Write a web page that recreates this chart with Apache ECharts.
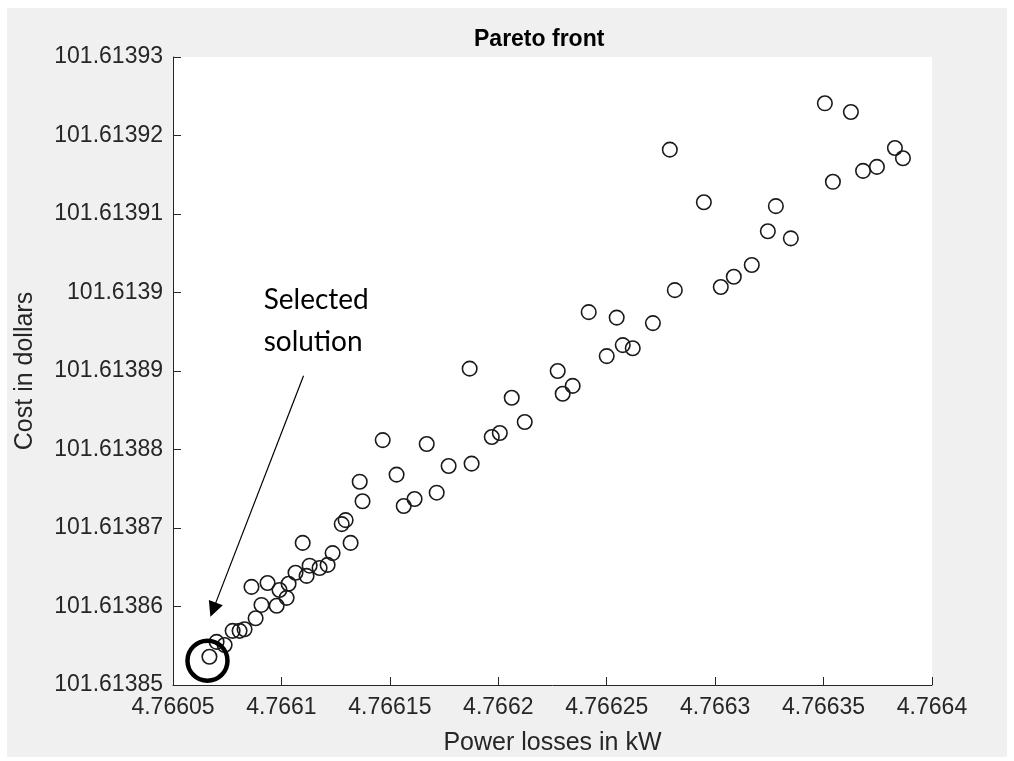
<!DOCTYPE html>
<html>
<head>
<meta charset="utf-8">
<script src="https://cdn.jsdelivr.net/npm/echarts@6.0.0/dist/echarts.min.js"></script>
<style>
  html, body { margin: 0; padding: 0; background: #fff; }
  #frame { position: absolute; left: 7px; top: 8px; width: 1000px; height: 749px; background: #f0f0f0; }
  #chart { position: absolute; left: 0; top: 0; width: 1014px; height: 761px; }
</style>
</head>
<body>
<div id="frame"></div>
<div id="chart"></div>
<script>
// tick values (axes are built from these)
const xTicks = [4.76605, 4.7661, 4.76615, 4.7662, 4.76625, 4.7663, 4.76635, 4.7664];
const yTicks = [101.61385, 101.61386, 101.61387, 101.61388, 101.61389, 101.6139, 101.61391, 101.61392, 101.61393];

// pareto front points
const powerLoss = [
  4.7660668, 4.7660701, 4.7660738, 4.7660775, 4.7660807, 4.7660830, 4.7660881, 4.7660908,
  4.7660862, 4.7660936, 4.7660978, 4.7660991, 4.7661024, 4.7661033, 4.7661065, 4.7661116,
  4.7661130, 4.7661176, 4.7661213, 4.7661236, 4.7661098, 4.7661319, 4.7661278, 4.7661296,
  4.7661361, 4.7661374, 4.7661467, 4.7661531, 4.7661564, 4.7661614, 4.7661670, 4.7661716,
  4.7661771, 4.7661868, 4.7661877, 4.7661970, 4.7662007, 4.7662062, 4.7662122, 4.7662274,
  4.7662297, 4.7662343, 4.7662417, 4.7662500, 4.7662546, 4.7662574, 4.7662620, 4.7662713,
  4.7662791, 4.7662814, 4.7662948, 4.7663026, 4.7663086, 4.7663169, 4.7663243, 4.7663280,
  4.7663349, 4.7663506, 4.7663626, 4.7663543, 4.7663682, 4.7663746, 4.7663829, 4.7663866
];
const cost = [
  101.6138536, 101.6138555, 101.6138551, 101.6138569, 101.6138569, 101.6138571, 101.6138585, 101.6138602,
  101.6138625, 101.6138630, 101.6138601, 101.6138621, 101.6138611, 101.6138629, 101.6138643, 101.6138639,
  101.6138652, 101.6138649, 101.6138653, 101.6138668, 101.6138681, 101.6138681, 101.6138705, 101.6138710,
  101.6138759, 101.6138734, 101.6138812, 101.6138768, 101.6138728, 101.6138737, 101.6138807, 101.6138745,
  101.6138779, 101.6138903, 101.6138782, 101.6138816, 101.6138821, 101.6138866, 101.6138835, 101.6138900,
  101.6138871, 101.6138881, 101.6138975, 101.6138919, 101.6138968, 101.6138933, 101.6138929, 101.6138961,
  101.6139182, 101.6139003, 101.6139115, 101.6139007, 101.6139020, 101.6139035, 101.6139078, 101.6139110,
  101.6139069, 101.6139241, 101.6139230, 101.6139141, 101.6139155, 101.6139160, 101.6139184, 101.6139171
];

// annotation: ring round the chosen point, arrow and its caption
const selectedPoint = [4.7660659, 101.6138531];
const arrowFrom = [4.7661102, 101.6138894];
const arrowTo = [4.7660685, 101.6138596];
const captionAt = [4.7660918, 101.6138964];
const captionText = 'Selected\nsolution';

const axisColor = '#262626';
const tickFont = { fontFamily: 'Liberation Sans', fontSize: 23, color: axisColor };

const chart = echarts.init(document.getElementById('chart'), null, { renderer: 'canvas' });

chart.setOption({
  animation: false,
  backgroundColor: 'transparent',
  title: {
    text: 'Pareto front',
    left: 474,
    top: 28,
    padding: 0,
    textStyle: { fontFamily: 'Liberation Sans', fontWeight: 'bold', fontSize: 23, color: '#000' }
  },
  grid: {
    left: 173, top: 57, width: 759, height: 628,
    show: true, backgroundColor: '#fff', borderWidth: 0,
    containLabel: false, outerBoundsMode: 'none'
  },
  xAxis: {
    type: 'value',
    min: xTicks[0],
    max: xTicks[xTicks.length - 1],
    interval: +(xTicks[1] - xTicks[0]).toFixed(8),
    name: 'Power losses in kW',
    nameLocation: 'middle',
    nameGap: 46,
    nameTextStyle: { fontFamily: 'Liberation Sans', fontSize: 25, color: axisColor },
    axisLine: { show: true, onZero: false, lineStyle: { color: axisColor, width: 1 } },
    axisTick: { show: true, inside: true, length: 8, lineStyle: { color: axisColor } },
    axisLabel: Object.assign({ margin: 11, interval: 0, showMinLabel: true, showMaxLabel: true, hideOverlap: false }, tickFont),
    splitLine: { show: false }
  },
  yAxis: {
    type: 'value',
    min: yTicks[0],
    max: yTicks[yTicks.length - 1],
    interval: +(yTicks[1] - yTicks[0]).toFixed(8),
    name: 'Cost in dollars',
    nameLocation: 'middle',
    nameGap: 135,
    nameTextStyle: { fontFamily: 'Liberation Sans', fontSize: 25, color: axisColor },
    axisLine: { show: true, onZero: false, lineStyle: { color: axisColor, width: 1 } },
    axisTick: { show: true, inside: true, length: 8, lineStyle: { color: axisColor } },
    axisLabel: Object.assign({ margin: 10, interval: 0, showMinLabel: true, showMaxLabel: true, hideOverlap: false }, tickFont),
    splitLine: { show: false }
  },
  series: [
    {
      name: 'Pareto front',
      type: 'scatter',
      symbol: 'circle',
      symbolSize: 14.5,
      itemStyle: { color: 'rgba(0,0,0,0)', borderColor: '#1a1a1a', borderWidth: 1.6, opacity: 1 },
      emphasis: { disabled: true },
      data: powerLoss.map((x, i) => [x, cost[i]]),
      markLine: {
        silent: true,
        symbol: ['none', 'triangle'],
        symbolSize: [15, 15],
        lineStyle: { color: '#000', width: 1.2, type: 'solid', opacity: 1 },
        label: { show: false },
        emphasis: { disabled: true },
        data: [[{ coord: arrowFrom }, { coord: arrowTo }]]
      },
      markPoint: {
        silent: true,
        data: [{
          coord: captionAt,
          symbol: 'rect',
          symbolSize: 1,
          itemStyle: { color: 'rgba(0,0,0,0)' },
          label: {
            show: true,
            position: 'inside',
            formatter: captionText,
            align: 'left',
            verticalAlign: 'middle',
            fontFamily: 'Lato',
            fontSize: 28,
            lineHeight: 42,
            color: '#000'
          }
        }]
      }
    },
    {
      name: 'Selected',
      type: 'scatter',
      symbol: 'circle',
      symbolSize: 40,
      itemStyle: { color: 'rgba(0,0,0,0)', borderColor: '#000', borderWidth: 4.5, opacity: 1 },
      emphasis: { disabled: true },
      data: [selectedPoint]
    }
  ]
});
</script>
</body>
</html>
